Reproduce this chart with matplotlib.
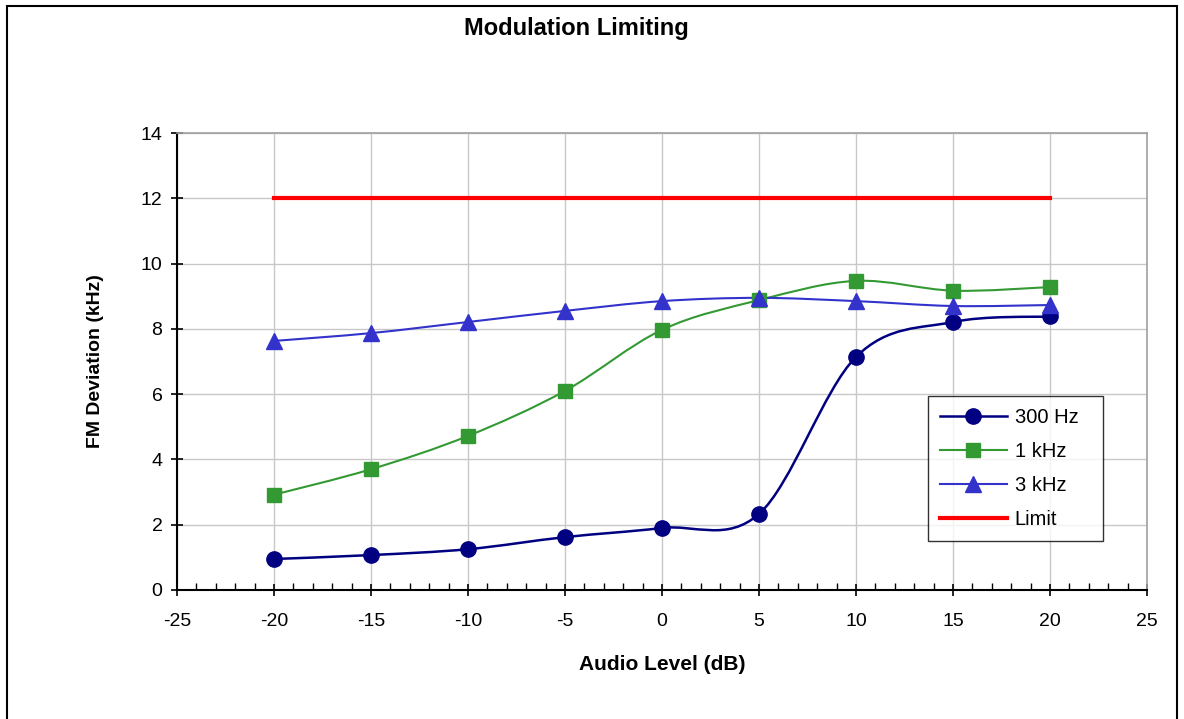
import numpy as np
import matplotlib
matplotlib.use("Agg")
import matplotlib.pyplot as plt
from matplotlib.path import Path
from matplotlib.patches import PathPatch, Rectangle
from matplotlib.lines import Line2D
from matplotlib.ticker import MultipleLocator

plt.rcParams['font.family'] = ['Liberation Sans', 'DejaVu Sans']
plt.rcParams['axes.unicode_minus'] = False

# data
audio_db = [-20, -15, -10, -5, 0, 5, 10, 15, 20]
dev_300hz = [0.95, 1.07, 1.25, 1.62, 1.90, 2.33, 7.14, 8.21, 8.38]
dev_1khz = [2.92, 3.70, 4.72, 6.10, 7.97, 8.88, 9.47, 9.17, 9.28]
dev_3khz = [7.63, 7.87, 8.21, 8.55, 8.85, 8.95, 8.85, 8.70, 8.73]
limit_x = [-20, 20]
limit_y = [12, 12]


def smooth_path(xs, ys):
    # Excel-style smoothed line: cubic Bezier segments through the points
    p = np.column_stack([xs, ys]).astype(float)
    n = len(p)
    verts = [p[0]]
    codes = [Path.MOVETO]
    for i in range(n - 1):
        p0 = p[i - 1] if i > 0 else p[i]
        p3 = p[i + 2] if i + 2 < n else p[i + 1]
        c1 = p[i] + (p[i + 1] - p0) / 6.0
        c2 = p[i + 1] - (p3 - p[i]) / 6.0
        verts += [c1, c2, p[i + 1]]
        codes += [Path.CURVE4] * 3
    return Path(verts, codes)


fig = plt.figure(figsize=(11.84, 7.19), dpi=100)
ax = fig.add_axes([177 / 1184, 1 - 590 / 719, 970 / 1184, 457 / 719])

series = [
    (dev_300hz, '#000080', 'o', 11, '300 Hz', 1.8),
    (dev_1khz, '#339933', 's', 10, '1 kHz', 1.5),
    (dev_3khz, '#3333CC', '^', 11, '3 kHz', 1.5),
]
handles = []
for ys, col, mk, ms, lab, lw in series:
    ax.add_patch(PathPatch(smooth_path(audio_db, ys), fill=False,
                           edgecolor=col, lw=lw, zorder=3))
    ax.plot(audio_db, ys, ls='none', marker=mk, ms=ms, color=col,
            mec=col, zorder=4)
    handles.append(Line2D([], [], color=col, lw=lw, marker=mk, ms=ms))

ax.plot(limit_x, limit_y, color='#FF0000', lw=3, zorder=3)
handles.append(Line2D([], [], color='#FF0000', lw=3))

ax.set_xlim(-25, 25)
ax.set_ylim(0, 14)
ax.xaxis.set_major_locator(MultipleLocator(5))
ax.xaxis.set_minor_locator(MultipleLocator(1))
ax.yaxis.set_major_locator(MultipleLocator(2))
ax.grid(True, which='major', color='#C8C8C8', lw=1, zorder=0)
ax.set_axisbelow(True)

for s in ['top', 'right']:
    ax.spines[s].set_color('#A0A0A0')
    ax.spines[s].set_linewidth(1.2)
for s in ['left', 'bottom']:
    ax.spines[s].set_color('black')
    ax.spines[s].set_linewidth(1.5)

ax.tick_params(axis='both', which='major', direction='inout', length=9,
               width=1.2, labelsize=14, pad=6)
ax.tick_params(axis='x', which='minor', direction='in', length=5, width=1)
ax.tick_params(axis='x', which='major', pad=12)

ax.set_xlabel('Audio Level (dB)', fontsize=15, fontweight='bold', labelpad=18)
ax.set_ylabel('FM Deviation (kHz)', fontsize=14, fontweight='bold', labelpad=26)
fig.text(0.487, 1 - 29 / 719, 'Modulation Limiting', ha='center', va='center',
         fontsize=17, fontweight='bold')

leg = ax.legend(handles, ['300 Hz', '1 kHz', '3 kHz', 'Limit'],
                loc='lower left', bbox_to_anchor=((928 - 177) / 970, (590 - 541) / 457,
                                                  175 / 970, 149 / 457),
                mode='expand', borderaxespad=0, fontsize=14.5, frameon=True,
                fancybox=False, edgecolor='black', handlelength=3.3,
                handletextpad=0.4, labelspacing=0.75, borderpad=0.6)
leg.get_frame().set_linewidth(1.0)
leg.set_zorder(5)

# outer chart border
fig.add_artist(Rectangle((7 / 1184, -0.01), 1170 / 1184, 1 - 6 / 719 + 0.01,
                         transform=fig.transFigure, fill=False,
                         edgecolor='black', lw=1.5))

fig.savefig('out.png', dpi=100, facecolor='white')
